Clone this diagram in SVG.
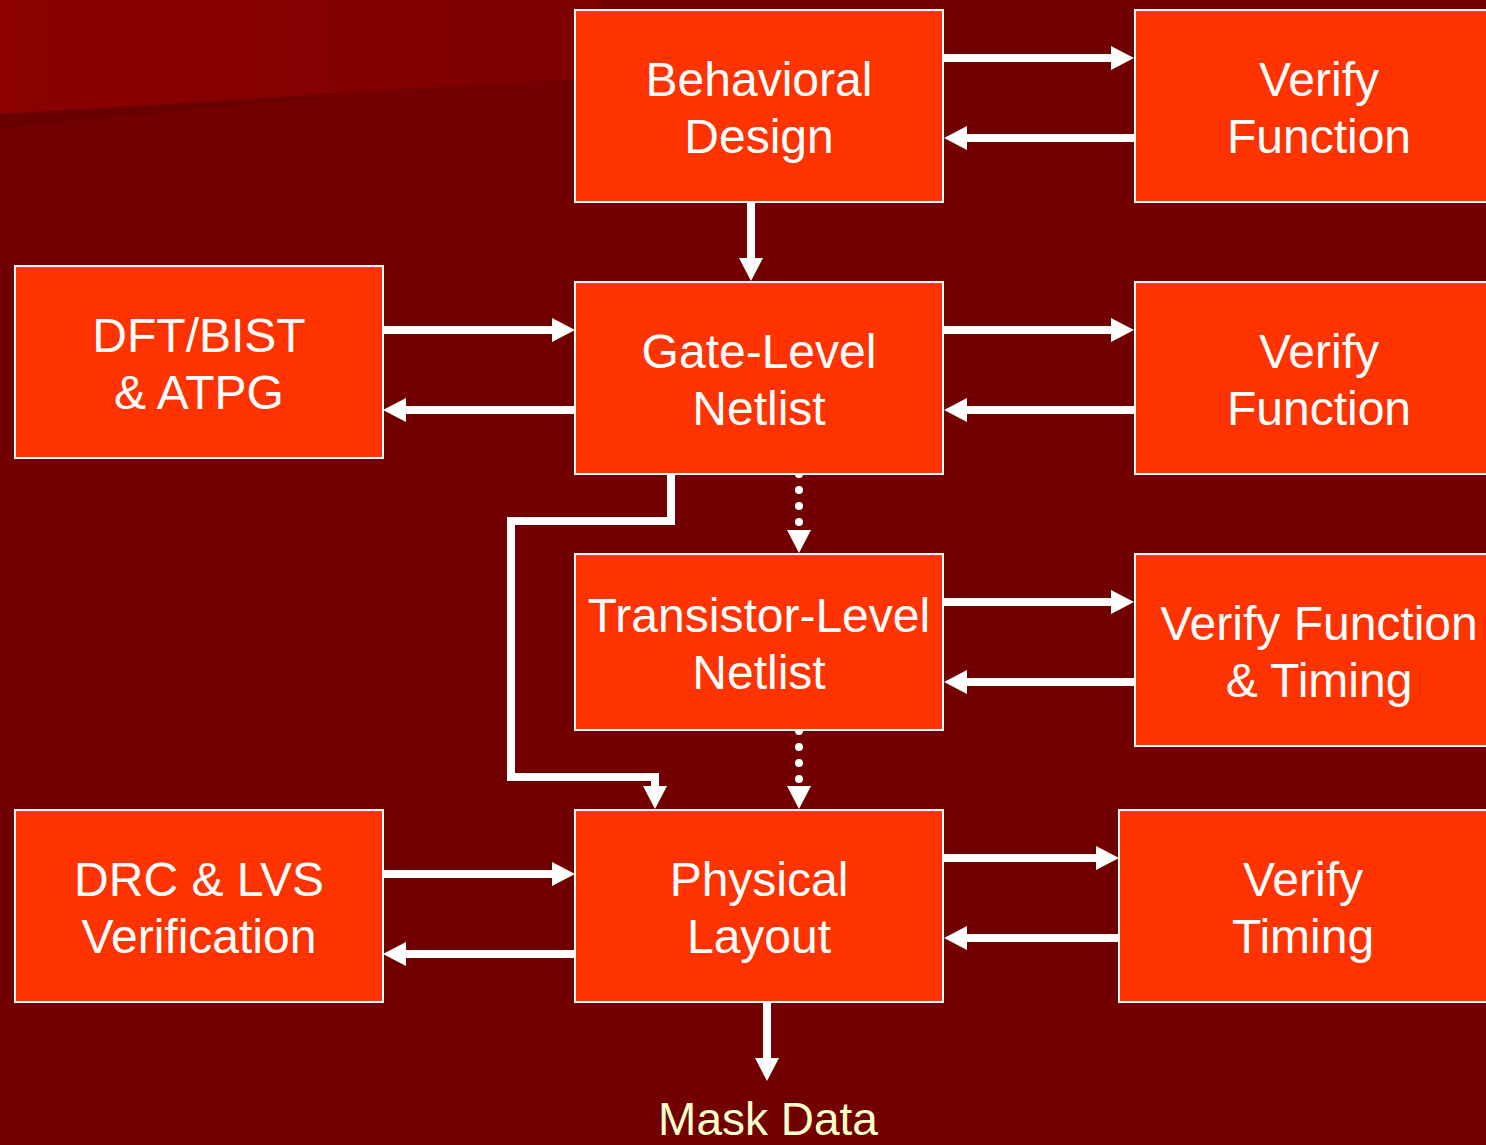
<svg xmlns="http://www.w3.org/2000/svg" width="1486" height="1145" viewBox="0 0 1486 1145">
  <defs>
    <linearGradient id="topGlow" x1="0" y1="0" x2="1" y2="0">
      <stop offset="0" stop-color="#8c0000"/>
      <stop offset="1" stop-color="#7e0000"/>
    </linearGradient>
    <marker id="head" viewBox="0 0 23 24" refX="0" refY="12" markerWidth="23" markerHeight="24" markerUnits="userSpaceOnUse" orient="auto">
      <path d="M0,0 L23,12 L0,24 Z" fill="#ffffff"/>
    </marker>
    <style>
      .box { fill: #ff3300; stroke: #ffffff; stroke-width: 2; }
      .label { font-family: "Liberation Sans", Arial, sans-serif; font-size: 48px; fill: #ffffff; text-anchor: middle; }
      .wire { fill: none; stroke: #ffffff; stroke-width: 8; marker-end: url(#head); }
      .dots { fill: none; stroke: #ffffff; stroke-width: 8; stroke-linecap: round; stroke-dasharray: 0 16; marker-end: url(#head); }
      .mask { font-family: "Liberation Sans", Arial, sans-serif; font-size: 46px; fill: #ffffcc; text-anchor: middle; }
    </style>
  </defs>

  <!-- backdrop -->
  <rect x="0" y="0" width="1486" height="1145" fill="#720000"/>
  <polygon points="0,0 600,0 600,77 0,114" fill="url(#topGlow)"/>
  <polygon points="0,114 340,96 0,128" fill="#690000"/>

  <!-- connectors -->
  <g id="connectors">
    <path class="wire" d="M944,58 H1111"/>
    <path class="wire" d="M1134,138 H967"/>
    <path class="wire" d="M751,202 V258"/>
    <path class="wire" d="M383,330 H552"/>
    <path class="wire" d="M575,410 H406"/>
    <path class="wire" d="M944,330 H1111"/>
    <path class="wire" d="M1134,410 H967"/>
    <path class="dots" d="M799,474 V530"/>
    <path class="wire" d="M671,474 V521 H511 V777 H655 V786"/>
    <path class="wire" d="M944,602 H1111"/>
    <path class="wire" d="M1134,682 H967"/>
    <path class="dots" d="M799,731 V786"/>
    <path class="wire" d="M383,874 H552"/>
    <path class="wire" d="M575,954 H406"/>
    <path class="wire" d="M944,858 H1096"/>
    <path class="wire" d="M1119,938 H967"/>
    <path class="wire" d="M767,1002 V1058"/>
  </g>

  <!-- nodes -->
  <g id="behavioral-design">
    <rect class="box" x="575" y="10" width="368" height="192"/>
    <text class="label" x="759" y="96">Behavioral</text>
    <text class="label" x="759" y="153">Design</text>
  </g>
  <g id="verify-function-1">
    <rect class="box" x="1135" y="10" width="368" height="192"/>
    <text class="label" x="1319" y="96">Verify</text>
    <text class="label" x="1319" y="153">Function</text>
  </g>
  <g id="dft-bist-atpg">
    <rect class="box" x="15" y="266" width="368" height="192"/>
    <text class="label" x="199" y="352">DFT/BIST</text>
    <text class="label" x="199" y="409">&amp; ATPG</text>
  </g>
  <g id="gate-level-netlist">
    <rect class="box" x="575" y="282" width="368" height="192"/>
    <text class="label" x="759" y="368">Gate-Level</text>
    <text class="label" x="759" y="425">Netlist</text>
  </g>
  <g id="verify-function-2">
    <rect class="box" x="1135" y="282" width="368" height="192"/>
    <text class="label" x="1319" y="368">Verify</text>
    <text class="label" x="1319" y="425">Function</text>
  </g>
  <g id="transistor-level-netlist">
    <rect class="box" x="575" y="554" width="368" height="176"/>
    <text class="label" x="759" y="632">Transistor-Level</text>
    <text class="label" x="759" y="689">Netlist</text>
  </g>
  <g id="verify-function-timing">
    <rect class="box" x="1135" y="554" width="368" height="192"/>
    <text class="label" x="1319" y="640">Verify Function</text>
    <text class="label" x="1319" y="697">&amp; Timing</text>
  </g>
  <g id="drc-lvs">
    <rect class="box" x="15" y="810" width="368" height="192"/>
    <text class="label" x="199" y="896">DRC &amp; LVS</text>
    <text class="label" x="199" y="953">Verification</text>
  </g>
  <g id="physical-layout">
    <rect class="box" x="575" y="810" width="368" height="192"/>
    <text class="label" x="759" y="896">Physical</text>
    <text class="label" x="759" y="953">Layout</text>
  </g>
  <g id="verify-timing">
    <rect class="box" x="1119" y="810" width="368" height="192"/>
    <text class="label" x="1303" y="896">Verify</text>
    <text class="label" x="1303" y="953">Timing</text>
  </g>
  <g id="mask-data">
    <text class="mask" x="768" y="1135">Mask Data</text>
  </g>
</svg>
